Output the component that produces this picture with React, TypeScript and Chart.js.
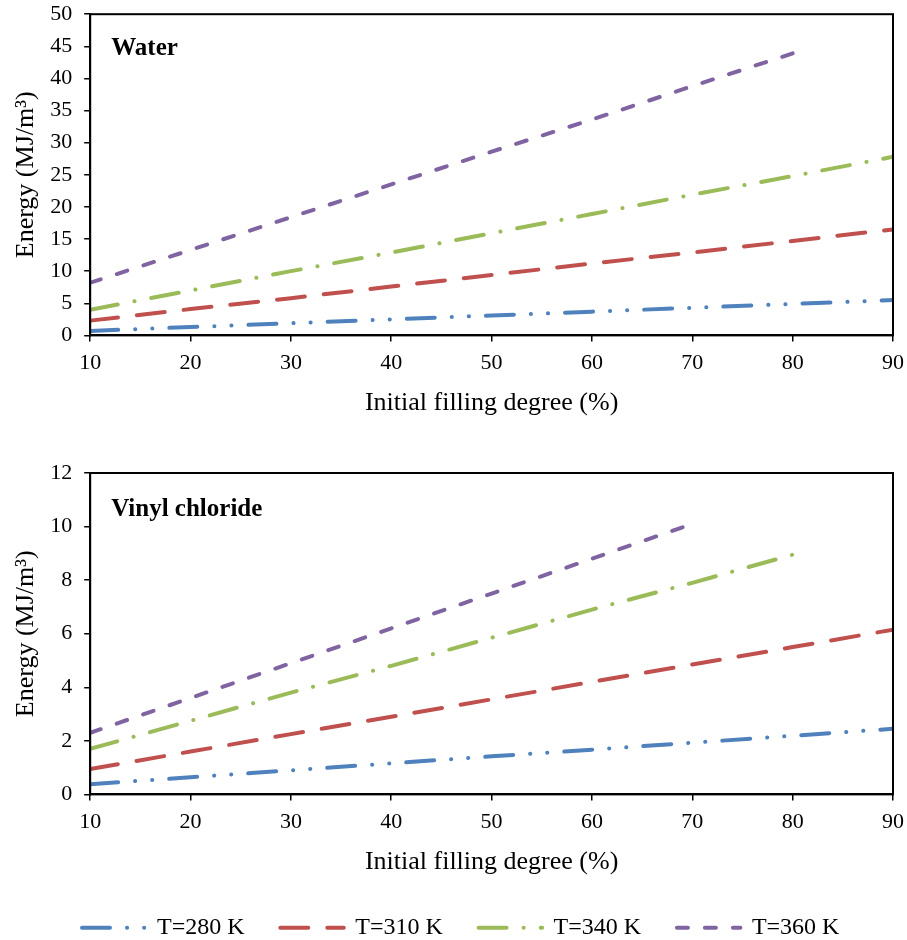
import React, { useEffect, useRef } from "react";
import { Chart, registerables } from "chart.js";

Chart.register(...registerables);

const FONT = "'Times New Roman', 'Liberation Serif', serif";

// ---- data ----
const fillingDegree = [10, 20, 30, 40, 50, 60, 70, 80, 90];
const seriesLabels = ["T=280 K", "T=310 K", "T=340 K", "T=360 K"];

const water280 = [0.7, 1.3, 1.9, 2.5, 3.1, 3.7, 4.3, 4.9, 5.5];
const water310 = [2.3, 4.1, 5.8, 7.6, 9.4, 11.2, 12.9, 14.7, 16.5];
const water340 = [4.0, 7.0, 10.0, 12.9, 15.9, 18.9, 21.9, 24.8, 27.8];
const water360 = [8.2, 13.3, 18.4, 23.5, 28.6, 33.6, 38.8, 43.9];

const vinyl280 = [0.38, 0.64, 0.9, 1.16, 1.42, 1.67, 1.93, 2.19, 2.45];
const vinyl310 = [0.95, 1.6, 2.25, 2.9, 3.55, 4.2, 4.85, 5.5, 6.15];
const vinyl340 = [1.7, 2.75, 3.8, 4.8, 5.85, 6.9, 7.9, 8.95];
const vinyl360 = [2.3, 3.6, 4.9, 6.2, 7.5, 8.8, 10.1];

const waterSeries = [water280, water310, water340, water360];
const vinylSeries = [vinyl280, vinyl310, vinyl340, vinyl360];

const xTitle = "Initial filling degree (%)";
const yTitle = "Energy (MJ/m\u00B3)";

// ---- styles ----
const lineColors = ["#4F81BD", "#C0504D", "#9BBB59", "#8064A2"];
const lineDashes = [
  [28, 17, 0.1, 17, 0.1, 17],
  [28, 19],
  [28, 17, 0.1, 17],
  [11, 17],
];

function toPoints(values: number[]) {
  return values.map((y, i) => ({ x: fillingDegree[i], y }));
}

const framePlugin = {
  id: "frame",
  afterDatasetsDraw(chart: any, _args: any, opts: any) {
    const { ctx, chartArea } = chart;
    ctx.save();
    ctx.strokeStyle = "#000";
    ctx.lineWidth = 2;
    ctx.setLineDash([]);
    ctx.strokeRect(
      chartArea.left,
      chartArea.top,
      chartArea.right - chartArea.left,
      chartArea.bottom - chartArea.top
    );
    if (opts && opts.label) {
      ctx.font = `bold 25px ${FONT}`;
      ctx.fillStyle = "#000";
      ctx.textBaseline = "alphabetic";
      ctx.textAlign = "left";
      ctx.fillText(opts.label, chartArea.left + 21, chartArea.top + opts.labelDy);
    }
    ctx.restore();
  },
};

const lineLegendPlugin = {
  id: "lineLegend",
  afterDraw(chart: any, _args: any, opts: any) {
    if (!opts || !opts.show) return;
    const { ctx } = chart;
    const y = opts.y;
    const datasets = chart.data.datasets;
    ctx.save();
    ctx.font = `24px ${FONT}`;
    const pitch = 198.3;
    const lineLen = 63.5;
    const textGap = 77;
    datasets.forEach((ds: any, i: number) => {
      const x = opts.x0 + i * pitch;
      ctx.strokeStyle = ds.borderColor;
      ctx.lineWidth = 4;
      ctx.lineCap = "round";
      ctx.setLineDash(ds.borderDash);
      ctx.beginPath();
      ctx.moveTo(x + 2, y);
      ctx.lineTo(x + 2 + lineLen, y);
      ctx.stroke();
      ctx.setLineDash([]);
      ctx.fillStyle = "#000";
      ctx.textBaseline = "alphabetic";
      ctx.textAlign = "left";
      ctx.fillText(ds.label, x + textGap, y + 6.5);
    });
    ctx.restore();
  },
};

type PanelProps = {
  series: number[][];
  yMax: number;
  yStep: number;
  label: string;
  top: number;
  height: number;
  padTop: number;
  padBottom: number;
  showLegend: boolean;
};

const CANVAS_W = 913;

function EnergyPanel(props: PanelProps) {
  const ref = useRef<HTMLCanvasElement>(null);
  useEffect(() => {
    const tickFont = { family: FONT, size: 22 };
    const chart = new Chart(ref.current as HTMLCanvasElement, {
      type: "line",
      data: {
        datasets: props.series.map((vals, i) => ({
          label: seriesLabels[i],
          data: toPoints(vals),
          borderColor: lineColors[i],
          backgroundColor: lineColors[i],
          borderWidth: 4,
          borderDash: lineDashes[i],
          borderCapStyle: "round",
          pointRadius: 0,
          pointHoverRadius: 0,
          tension: 0,
          fill: false,
        })),
      },
      plugins: [framePlugin, lineLegendPlugin],
      options: {
        animation: false,
        responsive: false,
        devicePixelRatio: 1,
        layout: {
          padding: { left: 2, right: 0, top: props.padTop, bottom: props.padBottom },
        },
        plugins: {
          legend: { display: false },
          tooltip: { enabled: false },
          frame: { label: props.label, labelDy: props.showLegend ? 43 : 41 },
          lineLegend: { show: props.showLegend, y: 487.7, x0: 80 },
        } as any,
        scales: {
          x: {
            type: "linear",
            min: 10,
            max: 90,
            ticks: { stepSize: 10, color: "#000", font: tickFont, padding: 9, maxRotation: 0 },
            grid: {
              display: true,
              drawOnChartArea: false,
              drawTicks: true,
              tickLength: 6,
              color: "#000",
              lineWidth: 1.5,
            },
            border: { display: true, color: "#000", width: 2 },
            title: {
              display: true,
              text: xTitle,
              color: "#000",
              font: { family: FONT, size: 26 },
              padding: { top: 2, bottom: 0 },
            },
          },
          y: {
            type: "linear",
            min: 0,
            max: props.yMax,
            ticks: { stepSize: props.yStep, color: "#000", font: tickFont, padding: 12 },
            grid: {
              display: true,
              drawOnChartArea: false,
              drawTicks: true,
              tickLength: 6,
              color: "#000",
              lineWidth: 1.5,
            },
            border: { display: true, color: "#000", width: 2 },
            title: {
              display: true,
              text: yTitle,
              color: "#000",
              font: { family: FONT, size: 26 },
              padding: { top: 9, bottom: -4 },
            },
          },
        },
      } as any,
    });
    return () => chart.destroy();
  }, []);
  return (
    <canvas
      ref={ref}
      width={CANVAS_W}
      height={props.height}
      style={{
        position: "absolute",
        left: 0,
        top: props.top,
        display: "block",
        width: CANVAS_W,
        height: props.height,
      }}
    />
  );
}

export default function App() {
  return (
    <div
      style={{
        position: "absolute",
        left: 0,
        top: 0,
        width: 907,
        height: 940,
        background: "#fff",
        overflow: "hidden",
      }}
    >
      <EnergyPanel
        series={waterSeries}
        yMax={50}
        yStep={5}
        label="Water"
        top={-11}
        height={451}
        padTop={0}
        padBottom={21}
        showLegend={false}
      />
      <EnergyPanel
        series={vinylSeries}
        yMax={12}
        yStep={2}
        label="Vinyl chloride"
        top={440}
        height={500}
        padTop={33}
        padBottom={62}
        showLegend={true}
      />
    </div>
  );
}
